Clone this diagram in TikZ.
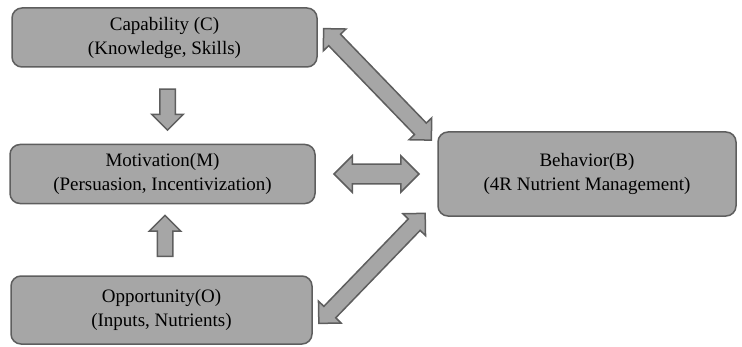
\documentclass[tikz,border=0pt]{standalone}
\usepackage{fontspec}
\setmainfont{Liberation Serif}
\newfontfamily\boxfont{Liberation Serif}
\usetikzlibrary{shapes.arrows,calc}
\definecolor{boxgray}{HTML}{A6A6A6}
\definecolor{linegray}{HTML}{5E5E5E}
\begin{document}
\begin{tikzpicture}[x=1pt,y=1pt,
  box/.style={draw=linegray,fill=boxgray,line width=1.5pt,rounded corners=10pt,
    align=center,inner sep=0pt,font=\boxfont\fontsize{19}{24}\selectfont},
  arr/.style={single arrow,draw=linegray,fill=boxgray,line width=1.5pt,
    single arrow head extend=8pt,single arrow head indent=0pt,
    inner xsep=0pt,inner ysep=7pt,minimum height=41pt},
  darr/.style={double arrow,draw=linegray,fill=boxgray,line width=1.5pt,
    double arrow head extend=7.5pt,double arrow head indent=0pt,
    inner xsep=0pt,inner ysep=7.5pt}]
\useasboundingbox (0,0) rectangle (742,346);
\node[box,minimum width=305pt,minimum height=59pt] (cap) at (164.5,308.5)
  {Capability (C)\\(Knowledge, Skills)};
\node[box,minimum width=305pt,minimum height=59pt] (mot) at (162.5,172)
  {Motivation(M)\\(Persuasion, Incentivization)};
\node[box,minimum width=301pt,minimum height=68pt] (opp) at (161.5,36)
  {Opportunity(O)\\(Inputs, Nutrients)};
\node[box,minimum width=298pt,minimum height=84pt] (beh) at (587,172)
  {Behavior(B)\\(4R Nutrient Management)};
\node[arr,rotate=-90] (cm) at ($(cap.south)!0.5!(mot.north)+(4,0)$) {};
\node[arr,rotate=90] (om) at ($(opp.north)!0.5!(mot.south)+(3,0)$) {};
\node[darr,minimum height=85pt,double arrow head extend=8.5pt,inner ysep=9pt]
  (mb) at ($(mot.east)!0.5!(beh.west)$) {};
\node[darr,minimum height=155pt,rotate=-46] (cb)
  at ($(cap.east)!0.5!(beh.north west)$) {};
\node[darr,minimum height=153pt,rotate=46] (ob)
  at ($(opp.east)!0.5!(beh.south west)+(-3,-5)$) {};
\end{tikzpicture}
\end{document}
